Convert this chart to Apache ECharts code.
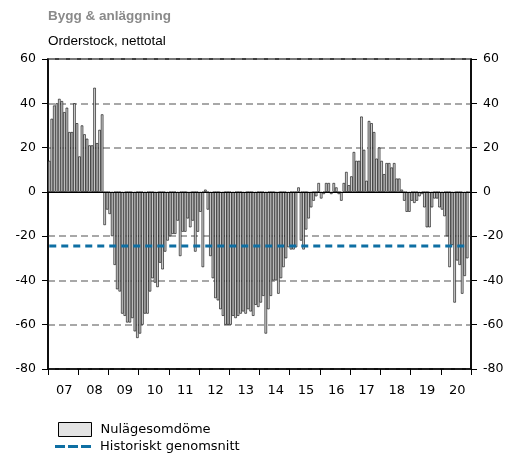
<!DOCTYPE html>
<html>
<head>
<meta charset="utf-8">
<script src="https://cdn.jsdelivr.net/npm/echarts@6/dist/echarts.min.js"></script>
<style>html,body{margin:0;padding:0;background:#fff;}#c{width:523px;height:457px;}</style>
</head>
<body>
<div id="c"></div>
<script>
const years = ['07','08','09','10','11','12','13','14','15','16','17','18','19','20'];
const v2007 = [14,33,39,40,42,41,36,38,27,27,40,31];
const v2008 = [16,30,26,24,21,21,47,22,28,35,-15,-8];
const v2009 = [-10,-20,-33,-44,-45,-55,-56,-59,-59,-57,-63,-66];
const v2010 = [-64,-60,-55,-55,-45,-39,-41,-43,-32,-35,-27,-22];
const v2011 = [-20,-19,-19,-13,-29,-18,-18,-12,-16,-13,-27,-18];
const v2012 = [-9,-34,1,-8,-29,-39,-48,-49,-53,-56,-60,-60];
const v2013 = [-60,-56,-57,-56,-55,-54,-55,-53,-54,-56,-51,-52];
const v2014 = [-50,-47,-64,-53,-47,-40,-40,-46,-39,-34,-30,-25];
const v2015 = [-26,-26,-25,2,-22,-26,-17,-12,-7,-4,-2,4];
const v2016 = [-3,-1,4,4,-1,4,2,-1,-4,4,9,3];
const v2017 = [7,18,14,14,34,19,5,32,31,27,15,20];
const v2018 = [14,8,13,13,11,13,6,6,1,-4,-9,-9];
const v2019 = [-4,-5,-4,-2,-1,-7,-16,-16,-7,-3,-3,-7];
const v2020 = [-8,-11,-20,-34,-24,-50,-31,-33,-46,-38,-30];
const historicalAverage = -24.5;
const yTicks = [-80,-60,-40,-20,0,20,40,60];

const nulage = [].concat(v2007,v2008,v2009,v2010,v2011,v2012,v2013,v2014,v2015,v2016,v2017,v2018,v2019,v2020);
const months = [];
years.forEach(y => { for (let m = 1; m <= 12; m++) months.push('20' + y + '-' + (m < 10 ? '0' + m : m)); });
const avgLine = nulage.map(() => historicalAverage);

const font = 'DejaVu Sans';
const blue = '#0e6fa3';
const yAxisCommon = {
  type: 'value', min: yTicks[0], max: yTicks[yTicks.length - 1], interval: 20,
  axisLine: { show: true, lineStyle: { color: '#000', width: 1.5 } },
  axisTick: { show: true, length: 6, lineStyle: { color: '#000', width: 1 } },
  axisLabel: { color: '#000', fontSize: 12.5, fontFamily: font, margin: 12 },
};

const chart = echarts.init(document.getElementById('c'), null, { renderer: 'canvas' });
chart.setOption({
  animation: false,
  backgroundColor: '#fff',
  title: [
    { text: 'Bygg & anläggning', left: 48, top: 9, padding: 0, textStyle: { fontSize: 13.5, fontWeight: 'bold', color: '#8a8a8a', fontFamily: 'Liberation Sans' } },
    { text: 'Orderstock, nettotal', left: 48, top: 34, padding: 0, textStyle: { fontSize: 13.5, fontWeight: 'normal', color: '#000', fontFamily: 'Liberation Sans' } }
  ],
  grid: { left: 48, right: 52, top: 59, bottom: 88, show: true, borderColor: '#000', borderWidth: 1.5, backgroundColor: 'transparent' },
  legend: [
    {
      orient: 'vertical', left: 58, top: 422, padding: 0, itemWidth: 33, itemHeight: 14,
      textStyle: { fontSize: 13, fontFamily: font, color: '#000', padding: [0, 0, 0, 4] },
      data: [ { name: 'Nulägesomdöme', icon: 'rect', itemStyle: { color: '#e3e3e3', borderColor: '#000', borderWidth: 1 } } ]
    },
    {
      orient: 'vertical', left: 55, top: 440, padding: 0, itemWidth: 36, itemHeight: 3,
      textStyle: { fontSize: 13, fontFamily: font, color: '#000', padding: [0, 0, 0, 4] },
      data: [ { name: 'Historiskt genomsnitt', icon: 'path://M0,0h10v3h-10zM13,0h10v3h-10zM26,0h10v3h-10z', itemStyle: { color: blue } } ]
    }
  ],
  xAxis: {
    type: 'category', data: months, boundaryGap: true,
    axisLine: { onZero: false, lineStyle: { color: '#000', width: 1.5 } },
    axisTick: { show: true, interval: (i) => i % 12 === 0, length: 6, lineStyle: { color: '#000', width: 1 } },
    axisLabel: { interval: (i) => i % 12 === 6, formatter: (v) => v.slice(2, 4), color: '#000', fontSize: 13, fontFamily: font, margin: 15 },
    splitLine: { show: false }
  },
  yAxis: [
    Object.assign({}, yAxisCommon, { position: 'left', splitLine: { show: true, lineStyle: { color: '#8c8c8c', type: [7, 4], width: 1.5 } } }),
    Object.assign({}, yAxisCommon, { position: 'right', splitLine: { show: false } })
  ],
  series: [
    {
      name: 'Nulägesomdöme', type: 'bar', data: nulage, barCategoryGap: '0%',
      itemStyle: { color: '#d4d4d4', borderColor: '#000', borderWidth: 0.6 },
      markLine: { silent: true, symbol: 'none', label: { show: false }, lineStyle: { color: '#000', type: 'solid', width: 1.2 }, data: [{ yAxis: 0 }] },
      z: 2
    },
    {
      name: 'Historiskt genomsnitt', type: 'line', data: avgLine, symbol: 'none',
      lineStyle: { color: blue, width: 3, type: [7, 5] }, itemStyle: { color: blue }, z: 3
    }
  ]
});
</script>
</body>
</html>
